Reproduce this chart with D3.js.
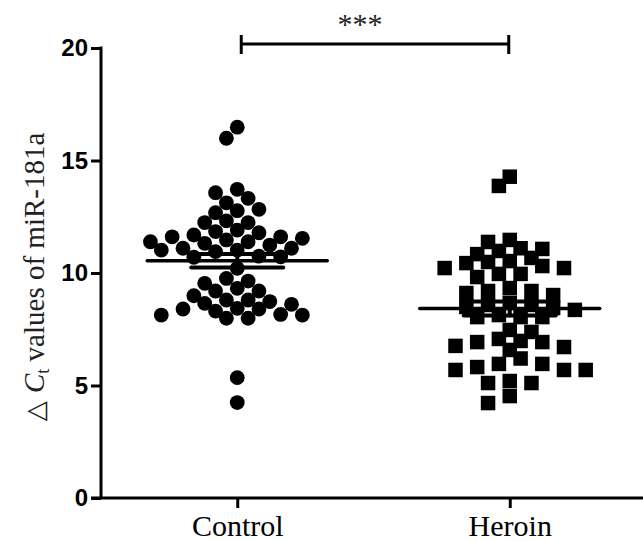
<!DOCTYPE html>
<html>
<head>
<meta charset="utf-8">
<script src="https://cdn.jsdelivr.net/npm/d3@7"></script>
<style>
  html, body { margin: 0; padding: 0; background: #fff; }
  svg { display: block; }
</style>
</head>
<body>
<svg id="chart" width="643" height="541"></svg>
<script>
// ---- data ----
const categories = ["Control", "Heroin"];
const controlValues = [
  16.48, 15.99, 13.72, 13.57, 13.32, 13.12, 12.77, 12.68, 12.83, 12.24,
  12.32, 12.24, 11.84, 11.79, 11.91, 11.61, 11.24, 11.47, 11.02, 11.69,
  11.39, 11.32, 11.39, 11.54, 11.10, 11.61, 11.10, 11.02, 10.95, 10.72,
  10.75, 10.70, 10.21, 9.64, 9.32, 9.20, 8.99, 9.20, 9.54, 9.76,
  8.80, 8.65, 8.43, 8.40, 8.61, 8.73, 8.80, 8.40, 8.13, 8.16,
  7.99, 7.99, 8.13, 8.31, 5.35, 4.24
];
const heroinValues = [
  14.28, 13.87,
  11.47, 11.38, 11.10, 11.07, 10.98, 10.84, 10.67, 10.53, 10.49, 10.44,
  10.31, 10.22, 10.22, 9.96, 9.96, 9.82,
  9.33, 9.20, 9.20, 9.11, 9.02, 8.67, 8.58, 8.58, 8.49, 8.44, 8.36,
  8.13, 8.04, 8.04, 8.04,
  7.47, 7.38, 7.07, 6.98, 6.93, 6.93, 6.76, 6.71, 6.58, 6.20,
  5.96, 5.96, 5.82, 5.69, 5.69, 5.69, 5.20, 5.11, 5.11, 4.53, 4.22
];
const yTicks = [0, 5, 10, 15, 20];
const significance = "***";

// ---- scales ----
const svg = d3.select("#chart");
const y = d3.scaleLinear().domain([0, 20]).range([498, 48]);
const x = d3.scalePoint().domain(categories).range([101, 646]).padding(0.5);

const ink = "#000";

// ---- axes ----
const yAxis = d3.axisLeft(y).tickValues(yTicks).tickSize(10).tickPadding(3).tickFormat(d3.format("d"));
const gy = svg.append("g").attr("transform", "translate(101,0)").call(yAxis);
gy.select(".domain").remove();
gy.selectAll(".tick line").attr("stroke", ink).attr("stroke-width", 3);
gy.selectAll(".tick text")
  .attr("fill", ink)
  .style("font-family", "'Liberation Sans', Arial, sans-serif")
  .style("font-weight", "bold")
  .style("font-size", "24px");
svg.append("line").attr("x1", 101).attr("x2", 101).attr("y1", y(20) - 1.5).attr("y2", y(0))
  .attr("stroke", ink).attr("stroke-width", 3);

const xAxis = d3.axisBottom(x).tickSize(10).tickPadding(8);
const gx = svg.append("g").attr("transform", "translate(0,498)").call(xAxis);
gx.select(".domain").remove();
gx.selectAll(".tick line").attr("stroke", ink).attr("stroke-width", 3);
gx.selectAll(".tick text")
  .attr("fill", ink)
  .attr("dy", "0")
  .attr("y", 38)
  .style("font-family", "'Liberation Serif', 'Times New Roman', serif")
  .style("font-size", "30px");
svg.append("line").attr("x1", 91).attr("x2", 643).attr("y1", y(0)).attr("y2", y(0))
  .attr("stroke", ink).attr("stroke-width", 3);

// ---- y label ----
const yl = svg.append("text")
  .attr("transform", "translate(44," + ((y(20) + y(0)) / 2 + 4) + ") rotate(-90)")
  .attr("text-anchor", "middle")
  .attr("fill", "#222")
  .style("font-family", "'Liberation Serif', 'Times New Roman', serif")
  .style("font-size", "29px");
yl.append("tspan").style("font-family", "'DejaVu Sans', sans-serif").style("font-size", "26px").text("\u25B3 ");
yl.append("tspan").style("font-style", "italic").text("C");
yl.append("tspan").attr("baseline-shift", "-25%").style("font-size", "18px").text("t");
yl.append("tspan").text(" values of miR-181a");

// ---- beeswarm layout ----
function swarm(values, cx, step, D) {
  const order = values.map((v, i) => i).sort((a, b) => values[b] - values[a]);
  const placed = [];
  const out = new Array(values.length);
  order.forEach((i, n) => {
    const py = y(values[i]);
    for (let k = 0; k < 40; k++) {
      const m = Math.ceil(k / 2) * (k % 2 === 1 ? 1 : -1) * ((n % 2) ? -1 : 1);
      const px = cx + m * step;
      const ok = placed.every(p => (p.x - px) ** 2 + (p.y - py) ** 2 >= D * D);
      if (ok) { const p = { x: px, y: py, v: values[i] }; placed.push(p); out[i] = p; break; }
    }
  });
  return out;
}

const ctrlPts = swarm(controlValues, x("Control"), 10.85, 13);
const herPts = swarm(heroinValues, x("Heroin"), 10.85, 13);

svg.append("g").selectAll("circle").data(ctrlPts).join("circle")
  .attr("cx", d => d.x).attr("cy", d => d.y).attr("r", 7.4).attr("fill", ink);

const sq = 14.5;
svg.append("g").selectAll("rect").data(herPts).join("rect")
  .attr("x", d => d.x - sq / 2).attr("y", d => d.y - sq / 2)
  .attr("width", sq).attr("height", sq).attr("fill", ink);

// ---- mean and SEM ----
function stats(vals) {
  const m = d3.mean(vals);
  const sem = d3.deviation(vals) / Math.sqrt(vals.length);
  return { m, sem };
}
[["Control", controlValues], ["Heroin", heroinValues]].forEach(([c, vals]) => {
  const s = stats(vals);
  const cx = x(c);
  const g = svg.append("g").attr("stroke", ink).attr("stroke-linecap", "round");
  g.append("line").attr("x1", cx - 90).attr("x2", cx + 90).attr("y1", y(s.m)).attr("y2", y(s.m)).attr("stroke-width", 3.5);
  g.append("line").attr("x1", cx).attr("x2", cx).attr("y1", y(s.m + s.sem)).attr("y2", y(s.m - s.sem)).attr("stroke-width", 4);
  g.append("line").attr("x1", cx - 46).attr("x2", cx + 46).attr("y1", y(s.m + s.sem)).attr("y2", y(s.m + s.sem)).attr("stroke-width", 4);
  g.append("line").attr("x1", cx - 46).attr("x2", cx + 46).attr("y1", y(s.m - s.sem)).attr("y2", y(s.m - s.sem)).attr("stroke-width", 4);
});

// ---- significance bracket ----
const bx1 = x("Control") + 4, bx2 = x("Heroin") - 1, by = 44;
const br = svg.append("g").attr("stroke", ink).attr("stroke-width", 3);
br.append("line").attr("x1", bx1).attr("x2", bx2).attr("y1", by).attr("y2", by);
br.append("line").attr("x1", bx1).attr("x2", bx1).attr("y1", by - 9).attr("y2", by + 10);
br.append("line").attr("x1", bx2).attr("x2", bx2).attr("y1", by - 9).attr("y2", by + 10);
svg.append("text").attr("x", 360).attr("y", 34).attr("text-anchor", "middle")
  .attr("fill", "#222")
  .style("font-family", "'Liberation Serif', 'Times New Roman', serif")
  .style("font-size", "30px")
  .text(significance);
</script>
</body>
</html>
